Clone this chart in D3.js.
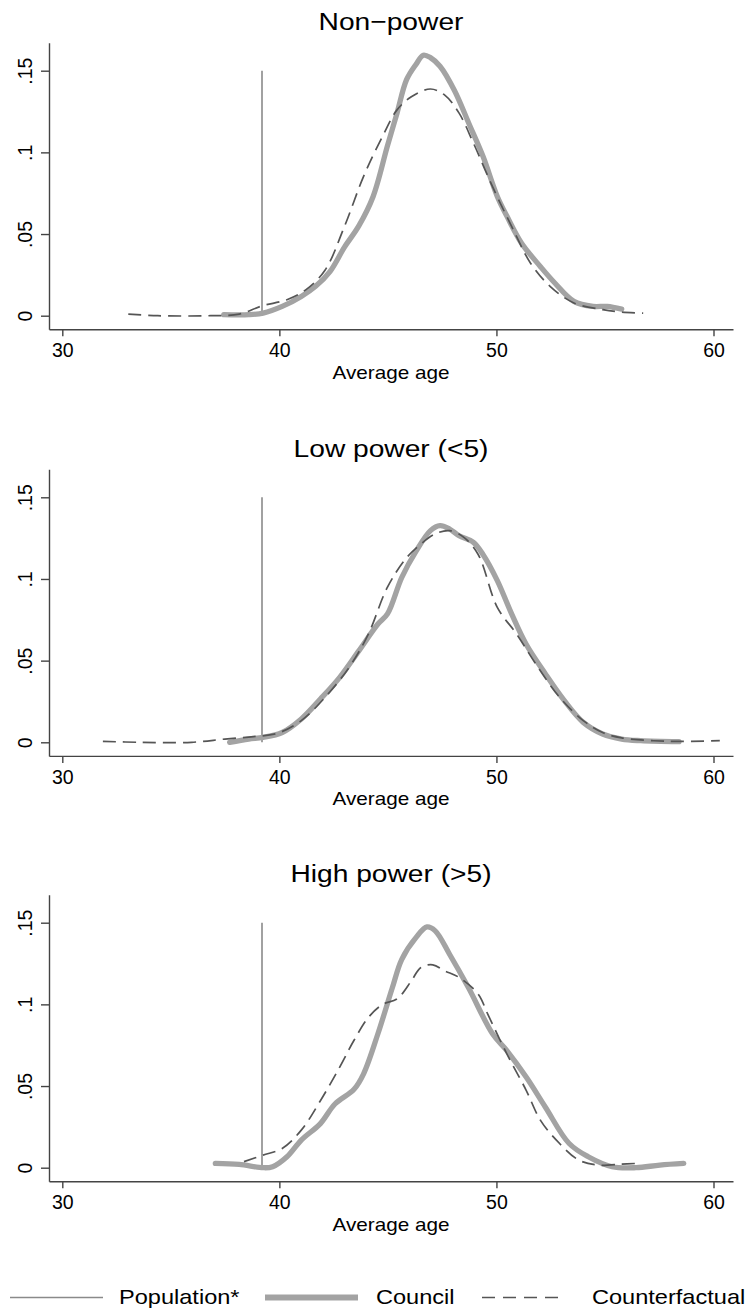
<!DOCTYPE html>
<html>
<head>
<meta charset="utf-8">
<script src="https://cdn.jsdelivr.net/npm/d3@7"></script>
<style>
  html, body { margin: 0; padding: 0; background: #ffffff; }
  svg { display: block; }
  text { font-family: "Liberation Sans", Arial, Helvetica, sans-serif; fill: #000; }
</style>
</head>
<body>
<svg id="chart" width="749" height="1313"></svg>
<script>
// ---------------- DATA ----------------
const panelTitles = ["Non\u2212power", "Low power (<5)", "High power (>5)"];
const xTickValues = [30, 40, 50, 60];
const xTickLabels = ["30", "40", "50", "60"];
const yTickValues = [0, 0.05, 0.1, 0.15];
const yTickLabels = ["0", ".05", ".1", ".15"];
const xAxisTitle = "Average age";
const legendLabels = ["Population*", "Council", "Counterfactual"];
const populationAge = 39.2;
const populationTop = 0.15;

// Non-power
const councilNonPower = [
  [37.44,0.0006],[38.59,0.0006],[39.25,0.0016],[40.13,0.0057],[41.01,0.0118],[41.67,0.018],
  [42.33,0.027],[43.0,0.042],[43.66,0.055],[44.32,0.073],[44.98,0.104],[45.42,0.124],
  [45.86,0.1445],[46.3,0.154],[46.63,0.1595],[46.96,0.158],[47.4,0.1527],[48.06,0.138],
  [48.72,0.118],[49.38,0.0976],[50.04,0.073],[50.48,0.061],[51.15,0.0445],[52.03,0.030],
  [52.69,0.020],[53.57,0.0088],[54.45,0.0057],[55.1,0.0057],[55.77,0.004]
];
const counterNonPower = [
  [33.04,0.001],[34.4,0.0],[36.83,0.0],[38.15,0.001],[39.2,0.006],[40.35,0.0098],
  [41.23,0.016],[42.11,0.028],[43.0,0.0547],[43.88,0.0853],[44.76,0.11],[45.42,0.126],
  [46.08,0.134],[46.96,0.1388],[47.62,0.135],[48.28,0.124],[48.94,0.1057],[49.82,0.079],
  [50.7,0.0547],[51.58,0.032],[52.47,0.018],[53.57,0.0078],[54.9,0.0037],[55.77,0.0022],[56.76,0.0016]
];
// Low power
const councilLowPower = [
  [37.71,0.0],[38.59,0.002],[39.25,0.003],[40.13,0.006],[41.01,0.0143],[41.89,0.0265],
  [42.78,0.0398],[43.66,0.056],[44.54,0.0724],[44.98,0.0786],[45.64,0.101],[46.3,0.117],
  [46.96,0.1296],[47.4,0.1327],[47.84,0.1306],[48.28,0.1265],[48.94,0.1224],[49.38,0.115],
  [50.04,0.099],[50.7,0.0786],[51.37,0.060],[52.25,0.042],[53.13,0.0255],[54.0,0.0122],
  [54.89,0.0051],[55.77,0.002],[56.65,0.001],[58.41,0.0004]
];
const counterLowPower = [
  [31.87,0.0006],[33.52,0.0],[35.95,0.0],[37.49,0.002],[38.81,0.0035],[39.91,0.0055],
  [41.01,0.0133],[42.11,0.0276],[43.22,0.046],[44.1,0.0663],[44.98,0.095],[45.86,0.113],
  [46.52,0.1214],[47.18,0.1276],[47.84,0.1296],[48.5,0.1255],[49.16,0.115],[50.04,0.0826],
  [50.93,0.0663],[51.81,0.048],[52.91,0.0276],[54.0,0.0133],[54.89,0.006],[55.77,0.0027],
  [57.97,0.0006],[60.29,0.001]
];
// High power
const councilHighPower = [
  [37.05,0.0026],[38.15,0.002],[39.25,0.0],[39.69,0.0006],[40.35,0.0067],[41.01,0.0169],
  [41.89,0.027],[42.56,0.039],[43.44,0.048],[43.88,0.0575],[44.54,0.082],[45.2,0.110],
  [45.64,0.1276],[46.3,0.141],[46.8,0.1474],[47.18,0.145],[47.84,0.1307],[48.72,0.110],
  [49.82,0.082],[50.48,0.0717],[51.37,0.0555],[52.25,0.0372],[53.35,0.0148],[54.23,0.0067],
  [55.33,0.0006],[56.43,0.0],[57.53,0.0016],[58.63,0.0026]
];
const counterHighPower = [
  [38.37,0.0037],[39.25,0.0077],[40.13,0.0118],[41.01,0.023],[41.89,0.041],[42.78,0.0616],
  [43.44,0.078],[44.1,0.092],[44.76,0.100],[45.42,0.1033],[46.08,0.1144],[46.52,0.1226],
  [47.07,0.1242],[47.62,0.1205],[48.28,0.1165],[49.16,0.1063],[49.6,0.094],[50.48,0.0697],
  [51.37,0.0474],[52.03,0.029],[52.91,0.0148],[53.79,0.0047],[54.67,0.0016],[55.77,0.0022],[56.43,0.0026]
];

const councilSeries = [councilNonPower, councilLowPower, councilHighPower];
const counterSeries = [counterNonPower, counterLowPower, counterHighPower];

// ---------------- LAYOUT / STYLE ----------------
const svg = d3.select("#chart");
const zeroLines = [315.7, 742.3, 1167.7];
const axisLeftX = 49, axisRightX = 733;
const stretch = 1.15;
const colAxis = "#444444";
const colPop = "#8a8a8a";
const colCouncil = "#a3a3a3";
const colCounter = "#555555";

const x = d3.scaleLinear().domain([30, 60]).range([62.3, 713.5]);
const xAxisScale = x.copy().domain([x.invert(axisLeftX), x.invert(axisRightX)]).range([axisLeftX, axisRightX]);

panelTitles.forEach((title, i) => {
  const base = zeroLines[i];
  const y = d3.scaleLinear().domain([0, 0.15]).range([base, base - 245]);
  const yAxisScale = y.copy().domain([y.invert(base + 13.6), y.invert(base - 273)]).range([base + 13.6, base - 273]);
  const g = svg.append("g");

  // title
  g.append("text")
    .attr("transform", `translate(391,${base - 285.7}) scale(${stretch},1)`)
    .attr("text-anchor", "middle")
    .style("font-size", "24.5px")
    .text(title);

  // x axis
  const xa = g.append("g")
    .attr("transform", `translate(0,${base + 13.6})`)
    .call(d3.axisBottom(xAxisScale).tickValues(xTickValues).tickSize(7).tickSizeOuter(0)
      .tickFormat((d, k) => xTickLabels[k]));
  xa.select(".domain").attr("stroke", colAxis).attr("stroke-width", 1.4);
  xa.selectAll(".tick line").attr("stroke", colAxis).attr("stroke-width", 1.4);
  xa.selectAll(".tick text").attr("y", 27.8).attr("dy", 0)
    .style("font-size", "19.5px").style("font-family", "Liberation Sans, Arial, sans-serif").attr("fill", "#000");

  // y axis
  const ya = g.append("g")
    .attr("transform", `translate(${axisLeftX},0)`)
    .call(d3.axisLeft(yAxisScale).tickValues(yTickValues).tickSize(8).tickSizeOuter(0)
      .tickFormat((d, k) => yTickLabels[k]));
  ya.select(".domain").attr("stroke", colAxis).attr("stroke-width", 1.4);
  ya.selectAll(".tick line").attr("stroke", colAxis).attr("stroke-width", 1.4);
  ya.selectAll(".tick text")
    .attr("x", null).attr("dy", 0)
    .attr("text-anchor", "middle")
    .attr("transform", "translate(-17,0) rotate(-90)")
    .style("font-size", "19.5px").style("font-family", "Liberation Sans, Arial, sans-serif").attr("fill", "#000");

  // x axis title
  g.append("text")
    .attr("transform", `translate(391,${base + 63}) scale(${stretch},1)`)
    .attr("text-anchor", "middle")
    .style("font-size", "18px")
    .text(xAxisTitle);

  // population line
  g.append("line")
    .attr("x1", x(populationAge)).attr("x2", x(populationAge))
    .attr("y1", y(0)).attr("y2", y(populationTop))
    .attr("stroke", colPop).attr("stroke-width", 1.6);

  const line = d3.line().x(d => x(d[0])).y(d => y(d[1])).curve(d3.curveCatmullRom.alpha(0.5));

  g.append("path").datum(councilSeries[i])
    .attr("d", line).attr("fill", "none")
    .attr("stroke", colCouncil).attr("stroke-width", 5.3)
    .attr("stroke-linecap", "round").attr("stroke-linejoin", "round");

  g.append("path").datum(counterSeries[i])
    .attr("d", line).attr("fill", "none")
    .attr("stroke", colCounter).attr("stroke-width", 1.7)
    .attr("stroke-dasharray", "13,7");
});

// ---------------- LEGEND ----------------
const legY = 1297.5;
const lg = svg.append("g");
const legendItems = [
  { label: legendLabels[0], x1: 10, x2: 103, tx: 119, stroke: colPop, w: 1.6, dash: null },
  { label: legendLabels[1], x1: 265, x2: 358, tx: 376, stroke: colCouncil, w: 6, dash: null },
  { label: legendLabels[2], x1: 482, x2: 565, tx: 592, stroke: colCounter, w: 1.7, dash: "13,8" }
];
legendItems.forEach(it => {
  lg.append("line")
    .attr("x1", it.x1).attr("x2", it.x2).attr("y1", legY).attr("y2", legY)
    .attr("stroke", it.stroke).attr("stroke-width", it.w)
    .attr("stroke-dasharray", it.dash);
  lg.append("text")
    .attr("transform", `translate(${it.tx},${legY + 6.5}) scale(${stretch},1)`)
    .style("font-size", "20.5px")
    .text(it.label);
});
</script>
</body>
</html>
